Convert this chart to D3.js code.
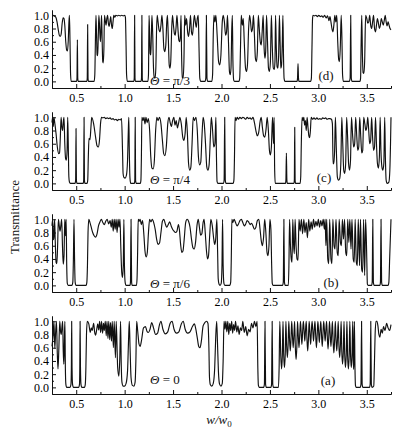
<!DOCTYPE html>
<html lang="en">
<head>
  <meta charset="UTF-8">
  <title>Transmittance vs w/w0</title>
  <style>
    body {
      margin: 0;
      padding: 0;
      background: #ffffff;
    }
    svg {
      display: block;
      font-family: 'Liberation Serif', 'Times New Roman', Times, serif;
    }
    .curve {
      fill: none;
      stroke: #111111;
      stroke-width: 1.15;
      stroke-linejoin: round;
    }
  </style>
</head>
<body>

<svg width="403" height="436"></svg>

<script src="https://d3js.org/d3.v7.min.js"></script>
<script>
  const width = 403, height = 436;

  // tick values
  const xTicks = [0.5, 1.0, 1.5, 2.0, 2.5, 3.0, 3.5];
  const xMinor = [0.25, 0.75, 1.25, 1.75, 2.25, 2.75, 3.25, 3.75];
  const yTicks = [0.0, 0.2, 0.4, 0.6, 0.8, 1.0];
  const yMinor = [0.1, 0.3, 0.5, 0.7, 0.9];

  const panelTags = ["(d)", "(c)", "(b)", "(a)"];
  const thetaValues = ["π/3", "π/4", "π/6", "0"];

  // transmittance, [w/w0, T]
  const seriesD = [
    [0.25,1.0],[0.262,1.0],[0.275,0.99],[0.29,0.97],[0.302,0.9],[0.315,0.78],[0.325,0.7],[0.335,0.68],[0.345,0.72],
    [0.355,0.88],[0.365,0.96],[0.374,0.95],[0.382,0.85],[0.392,0.6],[0.402,0.47],[0.41,0.46],[0.418,0.62],[0.425,0.9],[0.43,1.0],
    [0.436,0.6],[0.442,0.1],[0.448,0.0],[0.504,0.0],[0.508,0.05],[0.512,0.63],[0.516,0.05],[0.52,0.0],[0.61,0.0],[0.614,0.05],
    [0.618,0.86],[0.622,0.05],[0.626,0.0],[0.685,0.0],[0.692,0.1],[0.698,0.6],[0.704,1.0],
    [0.71,0.7],[0.716,0.4],[0.722,0.39],[0.728,0.7],[0.734,1.0],[0.742,0.8],[0.75,0.6],[0.756,0.8],[0.762,1.0],[0.768,0.6],
    [0.774,0.3],[0.78,0.28],[0.786,0.5],[0.792,1.0],[0.8,0.92],[0.808,0.85],[0.816,0.95],[0.824,1.0],[0.832,0.88],[0.84,0.83],
    [0.848,0.9],[0.856,0.98],[0.864,0.86],[0.872,0.8],[0.88,0.9],[0.888,1.0],[0.898,0.97],[0.91,1.0],[0.925,0.99],[0.94,1.0],
    [0.955,0.99],[0.97,1.0],[0.985,0.99],[1.0,1.0],[1.008,0.97],
    [1.014,0.6],[1.02,0.1],[1.028,0.0],[1.095,0.0],[1.099,0.05],[1.103,1.0],[1.107,0.05],[1.111,0.0],[1.17,0.0],[1.174,0.05],
    [1.178,1.0],[1.182,0.05],[1.186,0.0],[1.24,0.0],[1.246,0.1],[1.252,1.0],
    [1.258,0.7],[1.264,0.42],[1.27,0.4],[1.276,0.7],[1.282,1.0],[1.29,0.7],[1.298,0.2],[1.306,0.06],[1.314,0.05],[1.322,0.2],
    [1.33,0.8],[1.336,1.0],[1.345,0.9],[1.355,0.78],[1.365,0.75],[1.375,0.85],[1.385,1.0],[1.395,0.8],[1.405,0.5],[1.415,0.45],
    [1.425,0.55],[1.435,0.9],[1.442,1.0],[1.45,0.7],[1.46,0.25],[1.468,0.2],[1.476,0.3],[1.486,0.8],[1.494,1.0],[1.504,0.85],
    [1.514,0.72],[1.522,0.7],[1.53,0.8],[1.54,1.0],[1.55,0.8],[1.56,0.62],[1.568,0.6],[1.576,0.7],[1.582,1.0],[1.588,0.4],
    [1.596,0.06],[1.604,0.05],[1.612,0.3],[1.62,1.0],[1.63,0.85],[1.64,0.95],[1.65,0.75],[1.66,0.68],[1.67,0.8],[1.68,1.0],
    [1.69,0.75],[1.7,0.7],[1.71,0.85],[1.72,1.0],[1.73,0.9],[1.74,0.82],[1.75,0.95],[1.76,1.0],[1.768,0.5],[1.776,0.05],
    [1.786,0.0],[1.83,0.0],[1.838,0.05],[1.844,1.0],[1.85,0.05],[1.858,0.0],[1.9,0.0],[1.908,0.1],[1.915,0.7],[1.922,1.0],
    [1.932,0.9],[1.942,1.0],[1.955,0.7],[1.97,0.3],[1.982,0.25],[1.994,0.4],[2.008,0.9],[2.018,1.0],[2.03,0.9],[2.042,0.7],
    [2.052,0.75],[2.062,1.0],[2.072,0.6],[2.082,0.15],[2.09,0.1],[2.098,0.2],[2.106,0.8],[2.112,1.0],[2.118,0.3],[2.126,0.02],
    [2.135,0.0],[2.18,0.0],[2.188,0.05],[2.196,0.5],[2.204,1.0],[2.215,0.85],[2.225,0.95],[2.235,0.6],[2.248,0.2],[2.258,0.15],
    [2.268,0.25],[2.28,0.8],[2.29,1.0],[2.3,0.9],[2.31,0.75],[2.32,0.8],[2.33,1.0],[2.34,0.7],[2.35,0.35],[2.36,0.3],
    [2.37,0.45],[2.38,1.0],[2.39,0.8],[2.4,0.6],[2.41,0.55],[2.42,0.75],[2.43,1.0],[2.44,0.5],[2.448,0.35],[2.456,0.45],
    [2.465,1.0],[2.475,0.6],[2.485,0.2],[2.495,0.15],[2.505,0.3],[2.515,1.0],[2.525,0.5],[2.535,0.2],[2.545,0.18],[2.552,0.3],
    [2.558,1.0],[2.566,0.5],[2.574,0.22],[2.582,0.2],[2.59,0.4],[2.598,1.0],[2.605,0.6],[2.612,0.2],[2.62,0.25],[2.628,0.6],
    [2.634,1.0],[2.64,0.4],[2.646,0.05],[2.655,0.0],[2.78,0.0],[2.785,0.05],[2.79,0.27],[2.795,0.05],[2.8,0.0],[2.92,0.0],
    [2.928,0.05],[2.934,0.5],[2.94,0.95],[2.945,1.0],
    [2.96,0.99],[2.975,1.0],[2.99,0.98],[3.005,1.0],[3.02,0.98],[3.035,0.99],[3.05,0.97],[3.065,1.0],[3.08,0.96],[3.095,0.99],
    [3.11,0.92],[3.12,0.98],[3.13,0.9],[3.14,0.8],[3.15,0.75],[3.16,0.85],[3.17,1.0],[3.18,0.9],[3.19,1.0],[3.2,0.6],
    [3.21,0.33],[3.218,0.3],[3.226,0.5],[3.236,1.0],[3.244,0.6],[3.25,0.1],[3.258,0.0],[3.32,0.0],[3.328,0.05],[3.334,1.0],
    [3.34,0.05],[3.348,0.0],[3.43,0.0],[3.436,0.05],[3.442,0.6],[3.448,1.0],[3.455,0.4],[3.462,0.13],[3.47,0.12],[3.478,0.3],
    [3.488,1.0],[3.5,0.95],[3.51,0.88],[3.52,0.9],[3.53,1.0],[3.54,0.85],[3.55,0.8],[3.56,0.9],[3.57,1.0],[3.58,0.8],
    [3.59,0.75],[3.6,0.85],[3.61,0.95],[3.62,0.88],[3.63,0.8],[3.64,0.85],[3.65,0.95],[3.66,0.9],[3.67,0.85],[3.68,0.92],
    [3.69,1.0],[3.7,0.9],[3.71,0.84],[3.72,0.9],[3.73,0.85],[3.74,0.8],[3.75,0.78]
  ];

  const seriesC = [
    [0.25,0.92],[0.256,1.0],[0.263,0.86],[0.27,1.0],[0.28,0.9],[0.292,0.75],[0.305,0.55],[0.318,0.45],[0.328,0.46],[0.336,0.7],
    [0.344,1.0],[0.352,0.85],[0.36,0.8],[0.368,0.95],[0.374,1.0],[0.382,0.6],[0.39,0.38],[0.398,0.35],[0.406,0.5],[0.412,1.0],
    [0.418,0.6],[0.424,0.1],[0.43,0.02],[0.44,0.0],[0.488,0.0],[0.494,0.05],[0.498,0.83],[0.502,0.05],[0.508,0.0],[0.572,0.0],
    [0.577,0.05],[0.581,1.0],[0.585,0.05],[0.59,0.0],[0.612,0.0],[0.619,0.05],[0.625,0.4],[0.632,0.68],[0.642,0.66],[0.652,0.85],
    [0.66,1.0],[0.68,0.9],[0.7,0.7],[0.715,0.57],[0.728,0.55],[0.74,0.65],[0.752,0.92],[0.762,1.0],
    [0.775,0.99],[0.79,1.0],[0.805,0.98],[0.82,0.99],[0.835,0.98],[0.85,0.99],[0.865,0.97],[0.88,0.98],[0.895,0.96],[0.91,0.97],
    [0.925,0.95],[0.94,0.97],[0.955,0.96],[0.968,0.98],
    [0.978,0.5],[0.984,0.15],[0.992,0.09],[1.005,0.08],[1.018,0.12],[1.03,0.35],[1.038,0.8],[1.043,1.0],[1.048,0.5],[1.055,0.08],
    [1.063,0.0],[1.1,0.0],[1.105,0.05],[1.109,1.0],[1.113,0.05],[1.12,0.0],[1.162,0.0],[1.168,0.05],[1.173,0.4],[1.178,1.0],
    [1.19,0.95],[1.2,1.0],[1.21,0.9],[1.22,1.0],[1.232,0.92],[1.245,0.98],[1.258,0.8],[1.27,0.4],[1.282,0.23],[1.295,0.22],
    [1.307,0.35],[1.32,0.8],[1.332,1.0],[1.345,0.95],[1.36,1.0],[1.375,0.9],[1.39,0.65],[1.403,0.45],[1.416,0.42],[1.43,0.55],
    [1.445,0.9],[1.458,1.0],[1.47,0.92],[1.482,0.86],[1.495,0.95],[1.508,1.0],[1.52,0.88],[1.532,0.95],[1.545,0.84],[1.558,0.92],
    [1.57,1.0],[1.585,0.9],[1.6,0.7],[1.612,0.65],[1.624,0.75],[1.636,1.0],[1.648,0.75],[1.66,0.3],[1.672,0.2],[1.684,0.25],
    [1.696,0.6],[1.708,1.0],[1.722,0.95],[1.736,1.0],[1.75,0.8],[1.762,0.4],[1.774,0.28],[1.786,0.32],[1.798,0.7],[1.81,1.0],
    [1.822,0.9],[1.835,0.6],[1.848,0.25],[1.86,0.2],[1.872,0.28],[1.885,0.7],[1.895,1.0],[1.908,0.8],[1.92,0.55],[1.932,0.6],
    [1.942,1.0],[1.948,0.4],[1.954,0.03],[1.962,0.0],[2.02,0.0],[2.027,0.05],[2.033,1.0],[2.039,0.05],[2.047,0.0],[2.12,0.0],
    [2.128,0.05],[2.134,0.4],[2.14,1.0],
    [2.15,0.95],[2.162,1.0],[2.175,0.97],[2.19,1.0],[2.205,0.98],[2.22,1.0],[2.235,0.99],[2.25,0.97],[2.265,1.0],[2.28,0.98],
    [2.295,0.99],[2.31,0.97],[2.325,1.0],[2.34,0.92],[2.355,0.8],[2.37,0.72],[2.385,0.78],[2.4,0.95],[2.41,1.0],[2.422,0.85],
    [2.435,0.72],[2.447,0.7],[2.46,0.82],[2.472,1.0],[2.484,0.8],[2.495,0.5],[2.505,0.43],[2.515,0.55],[2.527,1.0],[2.537,0.6],
    [2.543,1.0],[2.549,0.2],[2.555,0.0],[2.66,0.0],[2.665,0.05],[2.67,0.46],[2.675,0.05],[2.68,0.0],[2.748,0.0],[2.752,0.05],
    [2.756,0.85],[2.76,0.05],[2.765,0.0],[2.812,0.0],[2.818,0.1],[2.824,0.6],[2.832,1.0],
    [2.842,0.95],[2.85,1.0],[2.858,0.88],[2.866,0.95],[2.875,0.8],[2.884,1.0],[2.893,0.85],[2.902,0.72],[2.91,0.69],[2.918,0.8],
    [2.926,1.0],[2.94,0.97],[2.955,0.99],[2.97,0.97],[2.985,0.99],[3.0,0.97],[3.015,0.98],[3.03,0.97],[3.045,0.99],[3.06,0.98],
    [3.075,0.99],[3.09,0.97],[3.105,0.98],[3.12,0.98],[3.135,0.97],[3.145,0.9],
    [3.152,0.3],[3.16,0.3],[3.168,0.5],[3.176,1.0],[3.186,0.5],[3.196,0.1],[3.208,0.05],[3.22,0.07],[3.232,0.3],[3.242,1.0],
    [3.252,0.6],[3.262,0.2],[3.272,0.15],[3.282,0.3],[3.292,1.0],[3.302,0.7],[3.312,0.3],[3.322,0.2],[3.332,0.35],[3.342,1.0],
    [3.355,0.7],[3.365,0.55],[3.375,0.6],[3.385,1.0],[3.397,0.7],[3.407,0.5],[3.417,0.55],[3.427,1.0],[3.438,0.7],[3.448,0.46],
    [3.458,0.5],[3.468,1.0],[3.48,0.9],[3.49,0.8],[3.5,0.85],[3.51,1.0],[3.52,0.8],[3.53,0.6],[3.54,0.65],[3.55,1.0],
    [3.56,0.7],[3.57,0.5],[3.58,0.55],[3.59,1.0],[3.6,0.6],[3.61,0.3],[3.62,0.23],[3.63,0.4],[3.638,1.0],[3.646,0.5],
    [3.656,0.25],[3.666,0.2],[3.676,0.3],[3.685,1.0],[3.692,0.4],[3.7,0.05],[3.71,0.0],[3.728,0.02],[3.738,0.2],[3.745,0.6],
    [3.75,1.0]
  ];

  const seriesB = [
    [0.25,0.9],[0.257,1.0],[0.264,0.72],[0.27,0.7],[0.277,1.0],[0.284,0.65],[0.292,0.35],[0.3,0.33],[0.308,0.6],[0.316,1.0],
    [0.325,0.9],[0.333,0.82],[0.341,0.9],[0.35,1.0],[0.358,0.6],[0.366,0.32],[0.374,0.45],[0.382,1.0],[0.39,0.75],[0.396,1.0],
    [0.402,0.3],[0.408,0.03],[0.418,0.0],[0.455,0.0],[0.465,0.05],[0.471,0.4],[0.477,1.0],[0.483,0.4],[0.489,0.05],[0.498,0.0],
    [0.602,0.0],[0.61,0.05],[0.616,0.3],[0.622,0.8],[0.63,1.0],
    [0.64,0.96],[0.655,0.88],[0.67,0.8],[0.685,0.75],[0.7,0.73],[0.715,0.78],[0.73,0.9],[0.745,0.96],[0.76,1.0],[0.775,0.95],
    [0.79,0.92],[0.805,0.97],[0.82,1.0],[0.835,0.93],[0.85,0.98],[0.862,0.88],[0.872,1.0],[0.882,0.82],[0.892,1.0],[0.902,0.85],
    [0.912,1.0],[0.922,0.8],[0.932,1.0],[0.942,0.88],[0.952,1.0],
    [0.96,0.6],[0.97,0.2],[0.978,0.12],[0.986,0.3],[0.992,1.0],[0.998,0.3],[1.005,0.05],[1.015,0.0],[1.055,0.0],[1.06,0.05],
    [1.066,1.0],[1.072,0.05],[1.078,0.0],[1.122,0.0],[1.128,0.1],[1.134,0.5],[1.14,1.0],
    [1.15,0.97],[1.16,1.0],[1.172,0.92],[1.185,0.98],[1.197,0.8],[1.21,0.52],[1.222,0.43],[1.234,0.5],[1.246,0.8],[1.258,1.0],
    [1.272,0.96],[1.285,1.0],[1.3,0.95],[1.315,0.85],[1.33,0.7],[1.345,0.62],[1.36,0.64],[1.375,0.8],[1.39,0.97],[1.405,1.0],
    [1.42,0.93],[1.435,0.88],[1.45,0.92],[1.465,0.96],[1.48,0.9],[1.495,0.85],[1.51,0.82],[1.525,0.8],[1.54,0.82],[1.555,0.92],
    [1.565,0.85],[1.578,0.62],[1.59,0.5],[1.602,0.52],[1.615,0.7],[1.63,0.95],[1.645,1.0],[1.66,0.97],[1.675,0.88],[1.69,0.7],
    [1.705,0.57],[1.718,0.55],[1.732,0.65],[1.748,0.92],[1.76,1.0],[1.772,0.88],[1.785,0.76],[1.797,0.78],[1.81,0.95],[1.82,1.0],
    [1.832,0.8],[1.845,0.52],[1.856,0.4],[1.866,0.45],[1.878,0.75],[1.89,1.0],[1.905,0.9],[1.92,0.7],[1.93,0.62],[1.94,0.7],
    [1.952,1.0],[1.96,0.5],[1.966,0.1],[1.974,0.02],[1.985,0.0],[1.997,0.03],[2.005,0.3],[2.011,1.0],[2.017,0.3],[2.025,0.03],
    [2.035,0.0],[2.085,0.0],[2.095,0.05],[2.101,0.4],[2.107,1.0],
    [2.117,0.95],[2.13,1.0],[2.145,0.95],[2.16,0.9],[2.175,0.93],[2.19,0.98],[2.205,1.0],[2.22,0.95],[2.235,0.9],[2.25,0.93],
    [2.265,0.98],[2.28,0.96],[2.295,0.92],[2.31,0.94],[2.325,0.9],[2.34,0.85],[2.355,0.88],[2.37,0.98],[2.385,1.0],[2.398,0.85],
    [2.41,0.68],[2.422,0.6],[2.434,0.72],[2.446,1.0],[2.458,0.8],[2.47,0.5],[2.48,0.45],[2.49,0.6],[2.5,1.0],[2.51,0.85],
    [2.518,0.3],[2.524,0.03],[2.532,0.0],[2.63,0.0],[2.638,0.05],[2.644,1.0],[2.65,0.05],[2.658,0.0],[2.69,0.0],[2.696,0.3],
    [2.703,1.0],
    [2.712,0.6],[2.72,0.4],[2.728,0.35],[2.736,1.0],[2.745,0.6],[2.752,0.48],[2.76,1.0],[2.77,0.6],[2.78,0.4],[2.79,0.38],
    [2.8,1.0],[2.812,0.82],[2.825,1.0],[2.837,0.78],[2.85,1.0],[2.862,0.8],[2.875,0.95],[2.887,0.72],[2.9,1.0],[2.912,0.82],
    [2.925,0.96],[2.937,0.85],[2.95,1.0],[2.962,0.88],[2.975,0.97],[2.987,0.9],[3.0,1.0],[3.012,0.88],[3.025,0.98],[3.037,0.9],
    [3.05,1.0],[3.062,0.85],[3.07,1.0],[3.078,0.6],[3.086,1.0],[3.097,0.4],
    [3.107,0.33],[3.117,1.0],[3.13,0.4],[3.14,0.33],[3.15,1.0],[3.162,0.6],[3.172,0.55],[3.182,1.0],[3.195,0.5],[3.205,0.45],
    [3.215,1.0],[3.228,0.65],[3.238,0.6],[3.248,1.0],[3.26,0.7],[3.27,1.0],[3.283,0.5],[3.293,0.45],[3.303,1.0],[3.315,0.65],
    [3.325,1.0],[3.337,0.55],[3.347,1.0],[3.36,0.4],[3.37,0.35],[3.38,1.0],[3.392,0.35],[3.402,0.3],[3.412,1.0],[3.425,0.3],
    [3.435,1.0],[3.447,0.25],[3.457,0.2],[3.467,1.0],[3.478,0.15],[3.488,1.0],
    [3.5,0.4],[3.506,0.02],[3.515,0.0],[3.55,0.0],[3.556,0.05],[3.562,1.0],[3.568,0.05],[3.576,0.0],[3.635,0.0],[3.641,0.05],
    [3.647,1.0],[3.653,0.05],[3.661,0.0],[3.72,0.0],[3.728,0.05],[3.736,0.4],[3.75,1.0]
  ];

  const seriesA = [
    [0.25,0.62],[0.262,0.8],[0.27,1.0],[0.279,0.59],[0.288,0.85],[0.296,1.0],[0.305,0.5],[0.312,0.28],[0.32,0.55],[0.33,1.0],
    [0.338,0.85],[0.345,0.8],[0.352,0.9],[0.36,1.0],[0.366,0.55],[0.372,0.35],[0.378,0.7],[0.383,1.0],
    [0.388,0.3],[0.393,0.05],[0.402,0.0],[0.435,0.0],[0.446,0.05],[0.45,0.3],[0.453,1.0],[0.457,0.3],[0.462,0.05],[0.472,0.0],
    [0.525,0.0],[0.534,0.05],[0.537,0.3],[0.54,1.0],[0.544,0.3],[0.549,0.05],[0.558,0.0],[0.585,0.0],[0.594,0.05],[0.6,0.3],
    [0.606,0.8],[0.614,1.0],
    [0.63,0.96],[0.645,0.83],[0.655,0.9],[0.665,0.86],[0.68,0.97],[0.69,0.84],[0.7,0.79],[0.712,0.88],[0.722,0.96],[0.732,0.87],
    [0.742,1.0],[0.752,0.83],[0.762,1.0],[0.772,0.82],[0.782,0.97],[0.79,0.86],[0.8,1.0],[0.81,0.78],[0.818,1.0],[0.828,0.74],
    [0.836,1.0],[0.846,0.72],[0.854,0.98],[0.864,0.7],[0.872,1.0],[0.884,0.6],[0.892,1.0],[0.905,0.45],[0.913,1.0],[0.928,0.3],
    [0.94,0.17],[0.95,0.45],[0.958,1.0],
    [0.965,0.35],[0.972,0.08],[0.985,0.02],[1.0,0.02],[1.015,0.06],[1.03,0.25],[1.04,0.7],[1.048,1.0],[1.056,0.6],[1.066,0.15],
    [1.08,0.03],[1.095,0.02],[1.108,0.08],[1.116,0.4],[1.124,1.0],
    [1.135,0.85],[1.148,0.66],[1.16,0.62],[1.175,0.72],[1.195,0.9],[1.215,0.92],[1.23,0.85],[1.245,0.83],[1.262,0.88],[1.28,0.98],
    [1.298,0.9],[1.32,0.8],[1.34,0.82],[1.36,0.95],[1.375,1.0],[1.395,0.88],[1.42,0.81],[1.445,0.84],[1.47,0.97],[1.49,1.0],
    [1.51,0.88],[1.535,0.82],[1.56,0.84],[1.585,0.96],[1.605,1.0],[1.625,0.88],[1.65,0.82],[1.675,0.84],[1.7,0.92],[1.72,0.96],
    [1.735,0.88],[1.75,0.75],[1.765,0.62],[1.778,0.6],[1.792,0.7],[1.81,0.93],[1.828,0.98],[1.845,1.0],[1.86,0.97],
    [1.87,0.6],[1.876,0.15],[1.885,0.04],[1.9,0.02],[1.915,0.06],[1.93,0.3],[1.94,0.75],[1.95,1.0],[1.958,0.7],[1.968,0.25],
    [1.98,0.05],[1.995,0.02],[2.008,0.06],[2.017,0.4],[2.026,1.0],
    [2.036,0.88],[2.045,1.0],[2.055,0.84],[2.065,1.0],[2.075,0.8],[2.085,0.97],[2.095,0.86],[2.105,1.0],[2.115,0.82],[2.125,0.95],
    [2.135,0.86],[2.145,1.0],[2.158,0.84],[2.17,0.93],[2.182,0.8],[2.195,0.9],[2.208,0.86],[2.22,1.0],[2.235,0.83],[2.25,0.92],
    [2.265,0.78],[2.28,0.88],[2.295,0.84],[2.31,0.97],[2.325,0.9],[2.34,1.0],[2.355,0.92],[2.368,1.0],
    [2.375,0.3],[2.381,0.03],[2.39,0.0],[2.435,0.0],[2.443,0.05],[2.449,1.0],[2.455,0.05],[2.463,0.0],[2.51,0.0],[2.517,0.05],
    [2.523,1.0],[2.529,0.05],[2.537,0.0],[2.588,0.0],[2.595,0.3],[2.602,1.0],
    [2.612,0.48],[2.62,0.28],[2.628,0.48],[2.635,1.0],[2.642,0.5],[2.65,0.3],[2.658,0.5],[2.665,1.0],
    [2.672,0.65],[2.68,0.45],[2.688,0.65],[2.695,1.0],[2.702,0.75],[2.71,0.55],[2.718,0.75],[2.725,1.0],
    [2.732,0.8],[2.74,0.6],[2.748,0.8],[2.755,1.0],[2.762,0.62],[2.77,0.42],[2.778,0.62],[2.785,1.0],
    [2.792,0.8],[2.8,0.6],[2.808,0.8],[2.815,1.0],[2.822,0.85],[2.83,0.65],[2.838,0.85],[2.845,1.0],
    [2.852,0.88],[2.86,0.7],[2.868,0.88],[2.875,1.0],[2.882,0.75],[2.89,0.55],[2.898,0.75],[2.905,1.0],
    [2.912,0.85],[2.92,0.65],[2.928,0.85],[2.935,1.0],[2.942,0.88],[2.95,0.7],[2.958,0.88],[2.965,1.0],
    [2.972,0.8],[2.98,0.6],[2.988,0.8],[2.995,1.0],[3.002,0.86],[3.01,0.68],[3.018,0.86],[3.025,1.0],
    [3.032,0.82],[3.04,0.62],[3.048,0.82],[3.055,1.0],[3.062,0.88],[3.07,0.7],[3.078,0.88],[3.085,1.0],
    [3.092,0.78],[3.1,0.58],[3.108,0.78],[3.115,1.0],[3.122,0.82],[3.13,0.62],[3.138,0.82],[3.145,1.0],
    [3.152,0.72],[3.16,0.52],[3.168,0.72],[3.175,1.0],[3.182,0.75],[3.19,0.55],[3.198,0.75],[3.205,1.0],
    [3.212,0.65],[3.22,0.45],[3.228,0.65],[3.235,1.0],[3.242,0.55],[3.25,0.35],[3.258,0.55],[3.265,1.0],
    [3.272,0.5],[3.28,0.3],[3.288,0.5],[3.295,1.0],[3.302,0.48],[3.31,0.28],[3.318,0.48],[3.325,1.0],
    [3.332,0.5],[3.34,0.3],[3.348,0.5],[3.355,1.0],[3.36,0.45],[3.364,0.27],[3.368,0.45],[3.372,1.0],
    [3.378,0.3],[3.383,0.03],[3.39,0.0],[3.432,0.0],[3.44,0.05],[3.446,1.0],[3.452,0.05],[3.46,0.0],[3.528,0.0],[3.535,0.05],
    [3.541,1.0],[3.547,0.05],[3.555,0.0],[3.572,0.02],[3.578,0.3],[3.586,0.8],[3.595,1.0],
    [3.605,1.0],[3.615,0.93],[3.625,0.8],[3.635,0.76],[3.648,0.88],[3.66,0.82],[3.673,0.92],[3.688,0.86],[3.705,0.97],[3.72,0.9],
    [3.735,0.86],[3.75,0.95]
  ];

  const panels = [
    { data: seriesD, tag: panelTags[0], theta: thetaValues[0] },
    { data: seriesC, tag: panelTags[1], theta: thetaValues[1] },
    { data: seriesB, tag: panelTags[2], theta: thetaValues[2] },
    { data: seriesA, tag: panelTags[3], theta: thetaValues[3] }
  ];

  // layout
  const panelStep = 102;
  const axisY = 88;
  const thetaY = [85, 184, 288, 384];
  const tagPos = [[326, 80], [324, 182], [331, 287], [328, 385]];

  const svg = d3.select("svg")
    .attr("viewBox", `0 0 ${width} ${height}`);

  svg.append("rect")
    .attr("width", width)
    .attr("height", height)
    .attr("fill", "#ffffff");

  const x = d3.scaleLinear().domain([0.25, 3.75]).range([52, 391]);
  const y = d3.scaleLinear().domain([-0.1, 1.08]).range([axisY, 10]);

  const line = d3.line()
    .x(d => x(d[0]))
    .y(d => y(d[1]))
    .curve(d3.curveMonotoneX);

  const fontFamily = "'Liberation Serif', 'Times New Roman', Times, serif";

  panels.forEach((p, i) => {
    const g = svg.append("g")
      .attr("transform", `translate(0,${i * panelStep})`);

    // minor ticks
    g.append("g")
      .attr("transform", `translate(0,${axisY})`)
      .call(d3.axisBottom(x).tickValues(xMinor).tickSize(-2).tickSizeOuter(0).tickFormat(""));
    g.append("g")
      .attr("transform", `translate(52,0)`)
      .call(d3.axisLeft(y).tickValues(yMinor).tickSize(-2).tickSizeOuter(0).tickFormat(""));

    // major ticks + labels
    g.append("g")
      .attr("transform", `translate(0,${axisY})`)
      .call(d3.axisBottom(x).tickValues(xTicks).tickSize(-4).tickSizeOuter(0).tickPadding(5)
        .tickFormat(d3.format(".1f")))
      .attr("font-family", fontFamily)
      .attr("font-size", 12);

    g.append("g")
      .attr("transform", `translate(52,0)`)
      .call(d3.axisLeft(y).tickValues(yTicks).tickSize(-4).tickSizeOuter(0).tickPadding(3)
        .tickFormat(d3.format(".1f")))
      .attr("font-family", fontFamily)
      .attr("font-size", 12);

    g.selectAll(".domain, .tick line").attr("stroke", "#111");

    g.append("path")
      .datum(p.data)
      .attr("class", "curve")
      .attr("d", line);

    const th = svg.append("text")
      .attr("x", 150)
      .attr("y", thetaY[i])
      .attr("font-size", 13)
      .attr("fill", "#111");
    th.append("tspan").attr("font-style", "italic").text("Θ");
    th.append("tspan").text(" = " + p.theta);

    svg.append("text")
      .attr("x", tagPos[i][0])
      .attr("y", tagPos[i][1])
      .attr("text-anchor", "middle")
      .attr("font-size", 13)
      .attr("fill", "#111")
      .text(p.tag);
  });

  // axis titles
  svg.append("text")
    .attr("transform", "translate(19,217) rotate(-90)")
    .attr("text-anchor", "middle")
    .attr("font-size", 13)
    .attr("fill", "#111")
    .text("Transmittance");

  const xt = svg.append("text")
    .attr("x", 219)
    .attr("y", 424)
    .attr("text-anchor", "middle")
    .attr("font-size", 13)
    .attr("fill", "#111");
  xt.append("tspan").attr("font-style", "italic").text("w/w");
  xt.append("tspan").attr("font-size", 9).attr("dy", 3).text("0");
</script>

</body>
</html>
